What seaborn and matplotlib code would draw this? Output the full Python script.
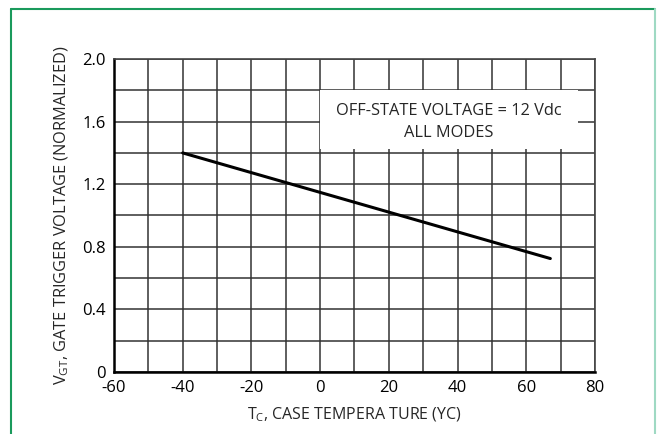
import matplotlib
matplotlib.use("Agg")
import matplotlib.pyplot as plt
from matplotlib.lines import Line2D
from matplotlib.patches import Rectangle
import seaborn as sns
import pandas as pd

# data
temp_c = [-40, 67]
vgt_norm = [1.40, 0.725]

x_ticks = [-60, -40, -20, 0, 20, 40, 60, 80]
y_ticks = [0, 0.4, 0.8, 1.2, 1.6, 2.0]
y_tick_labels = ["0", "0.4", "0.8", "1.2", "1.6", "2.0"]
note_lines = ["OFF-STATE VOLTAGE = 12 Vdc", "ALL MODES"]

sns.set_style("white")
plt.rcParams['font.family'] = ['Open Sans', 'DejaVu Sans']

fig = plt.figure(figsize=(6.57, 4.34), dpi=100)
ax = fig.add_axes([114 / 657, 62 / 434, 481 / 657, 313 / 434])

df = pd.DataFrame({"T": temp_c, "V": vgt_norm})
sns.lineplot(data=df, x="T", y="V", ax=ax, color="black", linewidth=2.2, zorder=5)

ax.set_xlim(-60, 80)
ax.set_ylim(0, 2.0)
ax.set_xticks(range(-60, 81, 10))
ax.set_yticks([i * 0.2 for i in range(11)])
ax.set_xticklabels([str(v) if v in x_ticks else "" for v in range(-60, 81, 10)])
ax.set_yticklabels([y_tick_labels[y_ticks.index(round(i * 0.2, 1))] if round(i * 0.2, 1) in y_ticks else ""
                    for i in range(11)])
ax.tick_params(axis="both", length=0, labelsize=12, colors="black")
ax.tick_params(axis="x", pad=6)
ax.tick_params(axis="y", pad=6)
ax.grid(True, color="#333333", linewidth=1.1, zorder=1)
ax.set_axisbelow(True)

for side in ["left", "bottom"]:
    ax.spines[side].set_color("black")
    ax.spines[side].set_linewidth(1.8)
for side in ["top", "right"]:
    ax.spines[side].set_color("#444444")
    ax.spines[side].set_linewidth(1.2)

# white legend box covering part of the grid
ax.add_patch(Rectangle((0, 1.425), 75, 0.375, facecolor="white", edgecolor="none", zorder=3))
ax.text(37.5, 1.665, note_lines[0], ha="center", va="center", fontsize=11.8, zorder=4)
ax.text(37.5, 1.527, note_lines[1], ha="center", va="center", fontsize=11.8, zorder=4)

ax.set_xlabel(r"T$_\mathregular{C}$, CASE TEMPERA TURE (YC)", fontsize=11.5, labelpad=7)
ax.set_ylabel(r"V$_\mathregular{GT}$, GATE TRIGGER VOLTAGE (NORMALIZED)", fontsize=11.8, labelpad=8)

# green page frame
fig.add_artist(Line2D([10.5 / 657, 10.5 / 657], [0, 1 - 8.5 / 434], color="#1a9a5c", linewidth=1.5))
fig.add_artist(Line2D([10.5 / 657, 655 / 657], [1 - 8.5 / 434, 1 - 8.5 / 434], color="#1a9a5c", linewidth=1.5))
fig.add_artist(Line2D([655 / 657, 655 / 657], [0, 1 - 8.5 / 434], color="#9fd9c3", linewidth=1.5))

fig.savefig("out.png", dpi=100)
